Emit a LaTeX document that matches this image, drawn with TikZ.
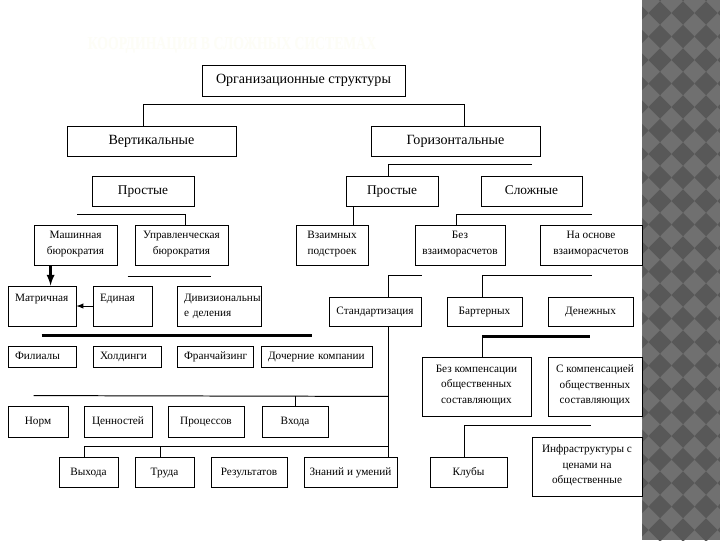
\documentclass[tikz,border=0pt]{standalone}
\usepackage{fontspec}
\setmainfont{Liberation Serif}
\newfontfamily\serifrm{Liberation Serif}
\usetikzlibrary{arrows, calc}

\definecolor{patbg}{RGB}{112,112,112}
\definecolor{patdark}{RGB}{88,88,88}
\definecolor{titlecol}{RGB}{253,253,246}

\begin{document}
\begin{tikzpicture}[x=0.025cm, y=-0.025cm,
    blk/.style 2 args={draw, line width=0.6pt, minimum width=#1*0.025cm,
      minimum height=#2*0.025cm, inner sep=1pt, align=center,
      font=\serifrm\fontsize{8}{11}\selectfont,
      execute at begin node=\strut, execute at end node=\strut},
    bigblk/.style 2 args={blk={#1}{#2}, font=\serifrm\fontsize{10}{12}\selectfont},
    midblk/.style 2 args={blk={#1}{#2}, font=\serifrm\fontsize{9.5}{12}\selectfont},
    leftblk/.style 2 args={blk={#1}{#2}, align=left, inner xsep=5pt,
      /utils/exec={\pgfmathsetlengthmacro\lbw{#1*0.025cm-10pt}}, text width=\lbw},
    link/.style={line width=0.7pt},
    boldlink/.style={line width=2pt}]
    \useasboundingbox (0,0) rectangle (720,540);
    \fill[white] (0,0) rectangle (720,540);

    % gray side strip
    \fill[patbg] (642,0) rectangle (720,540);
    \begin{scope}
        \clip (642,0) rectangle (720,540);
        \foreach \i in {-1,...,3}
            \foreach \j in {-1,...,23}
                \fill[patdark] (660+\i*23,1.25+\j*23.5) -- ++(11.5,11.75)
                    -- ++(-11.5,11.75) -- ++(-11.5,-11.75) -- cycle;
    \end{scope}

    \node[text=titlecol, font=\serifrm\bfseries\fontsize{13}{13}\selectfont] (ttl) at (232,45)
        {\scalebox{0.75}[1]{КООРДИНАЦИЯ В СЛОЖНЫХ СИСТЕМАХ}};

    \node[bigblk={203}{31}] (org) at (303.5,80.5) {Организационные структуры};
    \node[bigblk={169}{30}] (vert) at (151.5,141) {Вертикальные};
    \node[bigblk={169}{30}] (hor) at (455.5,141) {Горизонтальные};

    \node[midblk={102}{30}] (vprost) at (143,191) {Простые};
    \node[midblk={92}{30}] (hprost) at (392,191) {Простые};
    \node[midblk={101}{30}] (slozh) at (531.5,191) {Сложные};

    \node[blk={83}{40}] (mash) at (75.5,245) {Машинная\\бюрократия};
    \node[blk={93}{40}] (uprav) at (181.5,245) {Управленческая\\бюрократия};
    \node[blk={72}{40}] (vzaim) at (332,245) {Взаимных\\подстроек};
    \node[blk={90}{40}] (bezvz) at (460,245) {Без\\взаиморасчетов};
    \node[blk={102}{40}] (naosn) at (591,245) {На основе\\взаиморасчетов};

    \node[leftblk={68}{40}] (matr) at (42,306) {Матричная\\ };
    \node[leftblk={59}{40}] (edin) at (122.5,306) {Единая\\ };
    \node[leftblk={84}{40}] (divis) at (219,306) {Дивизиональны\\е деления};
    \node[blk={92}{29}] (stand) at (375,311.5) {Стандартизация};
    \node[blk={75}{29}] (bart) at (484.5,311.5) {Бартерных};
    \node[blk={85}{29}] (denezh) at (590.5,311.5) {Денежных};

    \node[leftblk={68}{21}] (fil) at (42,356.5) {Филиалы};
    \node[leftblk={68}{21}] (hold) at (127,356.5) {Холдинги};
    \node[leftblk={76}{21}] (franch) at (215,356.5) {Франчайзинг};
    \node[leftblk={111}{21}] (doch) at (316.5,356.5) {Дочерние компании};

    \node[blk={109}{59}] (bezkomp) at (476.5,386.5) {Без компенсации\\общественных\\составляющих};
    \node[blk={94}{59}] (skomp) at (595,386.5) {С компенсацией\\общественных\\составляющих};

    \node[blk={60}{31}] (norm) at (38,421.5) {Норм};
    \node[blk={68}{31}] (cenn) at (118,421.5) {Ценностей};
    \node[blk={76}{31}] (proc) at (206,421.5) {Процессов};
    \node[blk={66}{31}] (vhod) at (295,421.5) {Входа};

    \node[blk={59}{30}] (vyhod) at (88.5,472) {Выхода};
    \node[blk={59}{30}] (trud) at (164.5,472) {Труда};
    \node[blk={76}{30}] (rezult) at (249,472) {Результатов};
    \node[blk={93}{30}] (znan) at (350.5,472) {Знаний и умений};
    \node[blk={77}{30}] (klub) at (468.5,472) {Клубы};
    \node[blk={110}{59}] (infra) at (587,466.5) {Инфраструктуры с\\ценами на\\общественные};

    % connectors
    \draw[link] ($(vert.north)+(-8.5,0)$) -- ++(0,-21) -| ($(hor.north)+(8.5,0)$);
    \draw[link] ($(hprost.north)+(-4,0)$) -- ++(0,-11) -- ++(144,0);
    \draw[link] ($(uprav.north)+(3.5,0)$) -- ++(0,-10) -- ++(-108,0);
    \draw[link] ($(hprost.south west)+(8,0)$) -- ($(vzaim.north west)+(58,0)$);
    \draw[link] ($(bezvz.north)+(-4,0)$) -- ++(0,-10) -- ++(136,0);

    \draw[line width=1.6pt, -latex] ($(mash.south west)+(17,0)$) -- ($(matr.north west)+(43,0)$);
    \draw[link, -latex] (edin.west) -- (matr.east);
    \draw[link] ($(uprav.south west)+(-7,11)$) -- ++(83,0);

    \draw[link] ($(stand.north)+(13,0)$) -- ++(0,-21) -- ++(34,0);
    \draw[link] ($(bart.north)+(-2.5,0)$) -- ++(0,-21) -- ++(110,0);
    \draw[boldlink] ($(fil.north west)+(34,-10)$) -- ++(270,0);

    \draw[link] ($(stand.south)+(13,0)$) -- ++(0,131);
    \draw[link] ($(norm.north west)+(26,-10)$) -- ($(stand.south)+(13,70)$);
    \draw[link] (vhod.north) -- ++(0,-10);
    \draw[link] ($(vyhod.north)+(-4.5,0)$) -- ++(0,-10) -- ++(304,0);
    \draw[link] ($(trud.north)+(-4.5,0)$) -- ++(0,-10);

    \draw[link] ($(bezkomp.north)+(5.5,0)$) -- ++(0,-20);
    \draw[boldlink] ($(bezkomp.north)+(5.5,-20)$) -- ++(108,0);
    \draw[link] ($(klub.north)+(-4.5,0)$) -- ++(0,-31) -- ++(127,0);
\end{tikzpicture}
\end{document}
